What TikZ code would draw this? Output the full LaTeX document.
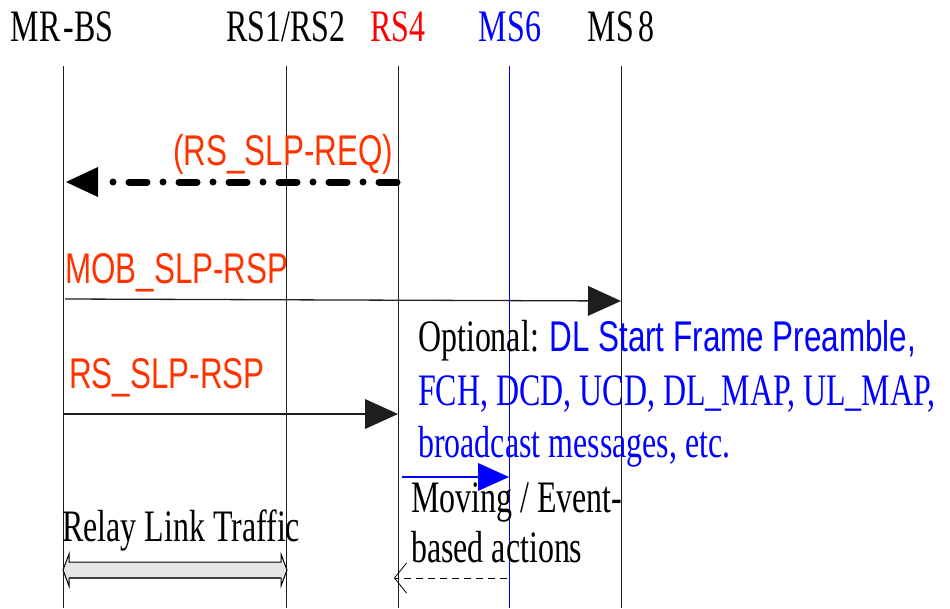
\documentclass[tikz,border=0pt]{standalone}
\usepackage{fontspec}
\setmainfont{Liberation Serif}
\newfontfamily\tms[FakeStretch=0.71]{Liberation Serif}
\newfontfamily\arl[FakeStretch=0.73]{Liberation Sans}
\usetikzlibrary{arrows.meta}
\definecolor{msgred}{RGB}{255,51,0}
\definecolor{lifegray}{RGB}{30,30,30}
\begin{document}
\begin{tikzpicture}[x=1pt,y=-1pt,
  tt/.style={font=\tms\fontsize{45}{54}\selectfont, inner sep=0pt, anchor=base west},
  hd/.style={tt, anchor=base},
  arlbl/.style={font=\arl\fontsize{43}{52}\selectfont, inner sep=0pt, anchor=base west, text=msgred},
  life/.style={line width=1pt, draw=lifegray},
  msg/.style={line width=1.3pt, draw=lifegray, -{Triangle[length=33pt,width=30pt,line width=0pt]}},
]
\useasboundingbox (0,0) rectangle (950,608);

% lifelines
\coordinate (bs-t) at (63,66);   \coordinate (bs-b) at (63,608);
\coordinate (rs12-t) at (286,66); \coordinate (rs12-b) at (286,608);
\coordinate (rs4-t) at (398,66); \coordinate (rs4-b) at (398,608);
\coordinate (ms6-t) at (509,66); \coordinate (ms6-b) at (509,608);
\coordinate (ms8-t) at (621,66); \coordinate (ms8-b) at (621,608);
\draw[life] (bs-t) -- (bs-b);
\draw[life] (rs12-t) -- (rs12-b);
\draw[life] (rs4-t) -- (rs4-b);
\draw[line width=1pt, draw=blue] (ms6-t) -- (ms6-b);
\draw[life] (ms8-t) -- (ms8-b);

% headers
\node[hd] (hbs) at (62,41) {MR\kern3pt-BS};
\node[hd] (hrs12) at (286,41) {RS1/RS2};
\node[hd, text=red] (hrs4) at (398,41) {RS4};
\node[hd, text=blue] (hms6) at (510,41) {MS6};
\node[hd] (hms8) at (621,41) {MS\kern4pt 8};

% RS_SLP-REQ
\node[arlbl] (lreq) at (173,165) {(RS\_SLP-REQ)};
\coordinate (req-s) at (397,182);
\coordinate (req-e) at (66,182);
\draw[line width=7pt, line cap=round, dash pattern=on 18pt off 16pt on 0pt off 16pt,
  -{Triangle[length=32pt,width=30pt,line width=0pt]}] (req-s) -- (req-e);

% MOB_SLP-RSP
\node[arlbl] (lmob) at (65,283) {MOB\_SLP-RSP};
\coordinate (mob-s) at (65,299);
\coordinate (mob-e) at (621,301);
\draw[msg] (mob-s) -- (mob-e);

% RS_SLP-RSP
\node[arlbl] (lrsp) at (69,388) {RS\_SLP-RSP};
\coordinate (rsp-s) at (63,414);
\coordinate (rsp-e) at (398,414);
\draw[msg] (rsp-s) -- (rsp-e);

% Optional text
\node[tt] (opt1) at (418,351) {Optional: {\arl\fontsize{43}{52}\selectfont\color{blue}DL Start Frame Preamble,}};
\node[tt, text=blue] (opt2) at (418,405) {FCH, DCD, UCD, DL\_MAP, UL\_MAP,};
\node[tt, text=blue] (opt3) at (418,457) {broadcast messages, etc.};

% blue arrow
\coordinate (bl-s) at (402,477);
\coordinate (bl-e) at (509,477);
\draw[line width=1.2pt, blue, -{Triangle[length=31pt,width=28pt,line width=0pt]}] (bl-s) -- (bl-e);

% moving
\node[tt] (mov1) at (411,512) {Moving / Event-};
\node[tt] (mov2) at (411,562) {based actions};

% dashed return
\coordinate (ds-s) at (507,578);
\coordinate (ds-e) at (394,578);
\draw[line width=0.8pt, dash pattern=on 7pt off 5pt, -{Straight Barb[length=12pt,width=30pt]}] (ds-s) -- (ds-e);

% relay link traffic
\node[tt] (relay) at (62,541) {Relay Link Traffic};
\draw[line width=1pt, fill=black!10]
  (63,570) -- (69,554) -- (69,562) -- (281,562) -- (281,554) -- (287,570)
  -- (281,586) -- (281,578) -- (69,578) -- (69,586) -- cycle;
\draw[line width=1.6pt, black!75] (69,578) -- (281,578);
\end{tikzpicture}
\end{document}
